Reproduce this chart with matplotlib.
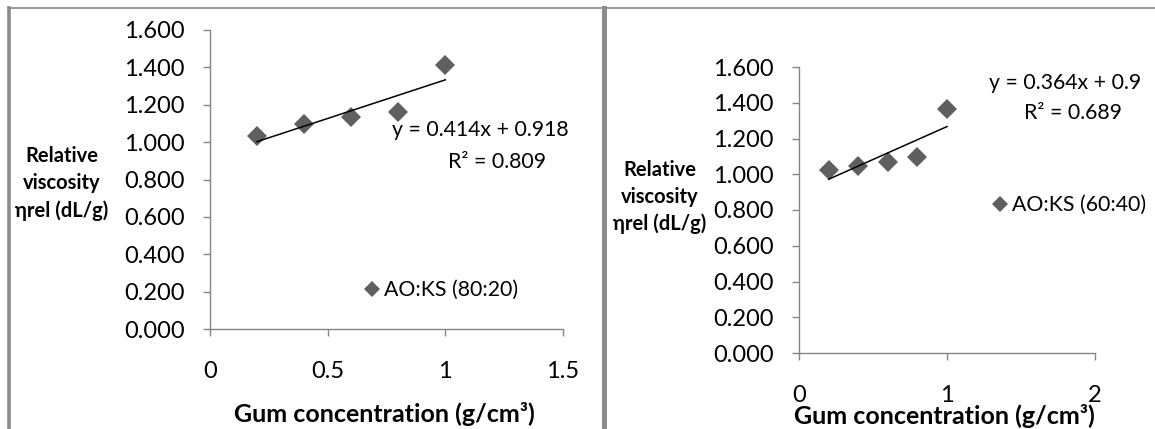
import matplotlib
matplotlib.use("Agg")
import matplotlib.pyplot as plt
from matplotlib.lines import Line2D
import numpy as np

# ==========================================
# Data
# ==========================================
conc = [0.2, 0.4, 0.6, 0.8, 1.0]
visc_80_20 = [1.032, 1.098, 1.134, 1.163, 1.413]
visc_60_40 = [1.023, 1.045, 1.066, 1.098, 1.365]

yticks = [0.0, 0.2, 0.4, 0.6, 0.8, 1.0, 1.2, 1.4, 1.6]
xticks_left = [0, 0.5, 1, 1.5]
xticks_right = [0, 1, 2]

eq_left = ["y = 0.414x + 0.918", "R\u00b2 = 0.809"]
eq_right = ["y = 0.364x + 0.9", "R\u00b2 = 0.689"]
label_left = "AO:KS (80:20)"
label_right = "AO:KS (60:40)"

ylabel_lines = ["Relative", "viscosity", "\u03b7rel (dL/g)"]
xlabel = "Gum concentration (g/cm\u00b3)"

# ==========================================
# Figure / style
# ==========================================
W, H = 1155, 429
plt.rcParams['font.family'] = ['Lato', 'DejaVu Sans']
fig = plt.figure(figsize=(W / 100, H / 100), dpi=100)

AXIS_GREY = '#868686'
MARKER_GREY = '#5f5f5f'
TICK_FS = 17
NOTE_FS = 15.3


def fx(x):
    return x / W


def fy(y):
    return 1 - y / H


def make_axes(left, top, right, bottom):
    return fig.add_axes([fx(left), fy(bottom), (right - left) / W, (bottom - top) / H])


def style_axes(ax, xmax, xticks):
    ax.set_xlim(0, xmax)
    ax.set_ylim(0, 1.6)
    ax.set_yticks(yticks)
    ax.set_yticklabels([f"{v:.3f}" for v in yticks])
    ax.set_xticks(xticks)
    ax.set_xticklabels([f"{v:g}" for v in xticks])
    for side in ['top', 'right']:
        ax.spines[side].set_visible(False)
    for side in ['left', 'bottom']:
        ax.spines[side].set_color(AXIS_GREY)
        ax.spines[side].set_linewidth(1.0)
    ax.tick_params(axis='y', direction='out', length=5, width=1.0, color=AXIS_GREY,
                   labelsize=TICK_FS, pad=13)
    ax.tick_params(axis='x', direction='out', length=5, width=1.0, color=AXIS_GREY,
                   labelsize=TICK_FS, pad=18)
    ax.patch.set_alpha(0)


def draw_series(ax, y, label):
    ax.plot(conc, y, linestyle='none', marker='D', ms=10, color=MARKER_GREY,
            markeredgewidth=0, label=label, zorder=3)
    slope, icpt = np.polyfit(conc, y, 1)
    xs = np.array([conc[0], conc[-1]])
    ax.plot(xs, slope * xs + icpt, color='black', lw=1.1, zorder=4)


# ==========================================
# Left chart
# ==========================================
ax1 = make_axes(210, 30, 563, 329)
style_axes(ax1, 1.5, xticks_left)
draw_series(ax1, visc_80_20, label_left)

# ==========================================
# Right chart
# ==========================================
ax2 = make_axes(799, 67, 1095, 353)
style_axes(ax2, 2, xticks_right)
draw_series(ax2, visc_60_40, label_right)

# Legends
for ax, (mx, my) in [(ax1, (372, 290)), (ax2, (1000, 205))]:
    hl = 0.7
    anchor_x = mx - hl * NOTE_FS / 0.72 / 2
    ax.legend(loc='center left', bbox_to_anchor=(fx(anchor_x), fy(my)),
              bbox_transform=fig.transFigure, frameon=False, fontsize=NOTE_FS,
              handlelength=hl, handletextpad=0.2, borderpad=0, borderaxespad=0,
              markerscale=0.85)

# Trendline equations
fig.text(fx(392), fy(130), eq_left[0], fontsize=NOTE_FS, ha='left', va='center')
fig.text(fx(497), fy(162), eq_left[1], fontsize=NOTE_FS, ha='center', va='center')
fig.text(fx(989), fy(83), eq_right[0], fontsize=NOTE_FS, ha='left', va='center')
fig.text(fx(1073), fy(113), eq_right[1], fontsize=NOTE_FS, ha='center', va='center')

# Axis titles
for cx, ys in [(62, [156, 183, 211]), (660, [170, 197, 224])]:
    for line, yy in zip(ylabel_lines, ys):
        fig.text(fx(cx), fy(yy), line, fontsize=14.5, fontweight='bold',
                 ha='center', va='center')

fig.text(fx(384), fy(414), xlabel, fontsize=18, fontweight='bold', ha='center', va='center')
fig.text(fx(944), fy(416), xlabel, fontsize=18, fontweight='bold', ha='center', va='center')

# Panel frames
FRAME = '#8c8c8c'
fig.add_artist(Line2D([fx(8), fx(W)], [fy(8), fy(8)], color='#999999', lw=1.4))
fig.add_artist(Line2D([fx(9), fx(9)], [fy(8), fy(H)], color=FRAME, lw=2.6))
fig.add_artist(Line2D([fx(604), fx(604)], [fy(8), fy(H)], color=FRAME, lw=3.6))

fig.savefig('out.png', dpi=100)
